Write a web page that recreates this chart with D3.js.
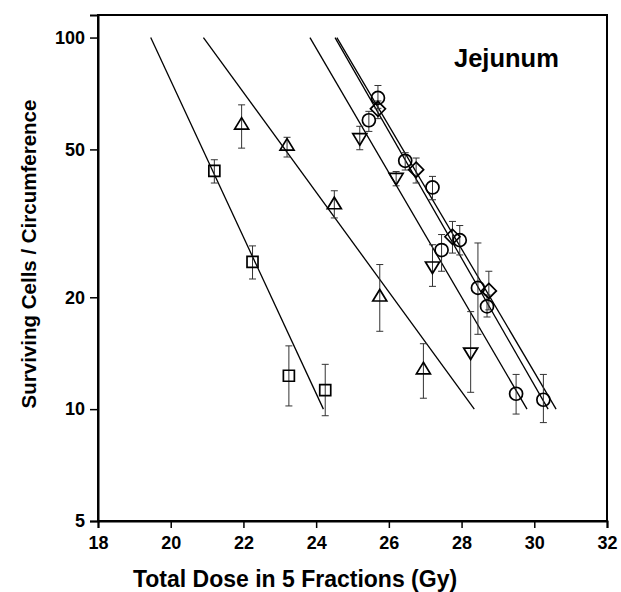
<!DOCTYPE html>
<html>
<head>
<meta charset="utf-8">
<script src="https://cdn.jsdelivr.net/npm/d3@7"></script>
<style>
  body { margin: 0; background: #fff; }
  text { font-family: "Liberation Sans", Arial, sans-serif; font-weight: bold; fill: #000; }
</style>
</head>
<body>
<svg id="chart" width="621" height="592"></svg>
<script>

//// DATA

// Squares
var squareDose = [21.2, 22.25, 23.25, 24.25];
var squareSurv = [43.8, 24.9, 12.3, 11.25];
var squareLo   = [40.6, 22.4, 10.2, 9.6];
var squareHi   = [46.9, 27.5, 14.8, 13.2];

// Up triangles
var upDose = [21.95, 23.2, 24.5, 25.75, 26.95];
var upSurv = [58.3, 51.2, 35.6, 20.1, 12.8];
var upLo   = [50.4, 47.7, 32.7, 16.2, 10.7];
var upHi   = [65.9, 53.9, 38.7, 24.5, 15.0];

// Down triangles
var downDose = [25.2, 26.2, 27.2, 28.25];
var downSurv = [53.6, 41.9, 24.2, 14.2];
var downLo   = [49.9, 39.9, 21.4, 11.1];
var downHi   = [57.7, 43.6, 27.7, 18.3];

// Circles
var circleDose = [25.45, 25.7, 26.45, 27.2, 27.45, 27.95, 28.45, 28.7, 29.5, 30.25];
var circleSurv = [59.9, 68.8, 46.6, 39.5, 26.8, 28.5, 21.2, 18.9, 11.0, 10.6];
var circleLo   = [55.9, 64.5, 44.0, 36.6, 23.5, 26.0, 15.9, 17.7, 9.7, 9.2];
var circleHi   = [63.3, 74.3, 49.0, 42.3, 29.5, 31.2, 28.0, 20.3, 12.4, 12.4];

// Diamonds
var diamondDose = [25.7, 26.75, 27.75, 28.75];
var diamondSurv = [64.3, 44.1, 29.1, 20.8];
var diamondLo   = [60.5, 40.6, 26.3, 18.5];
var diamondHi   = [67.5, 47.4, 32.0, 23.5];

// Fitted lines: dose where each line meets the survival values below
var fitSurv       = [100, 10];
var squareFit     = [19.45, 24.2];
var upFit         = [20.9, 28.35];
var downFit       = [23.83, 29.8];
var circleFit     = [24.52, 30.38];
var diamondFit    = [24.57, 30.6];

// Ticks
var xTicks = [18, 20, 22, 24, 26, 28, 30, 32];
var yTicks = [5, 10, 20, 50, 100];

var panelTitle = "Jejunum";
var xTitle = "Total Dose in 5 Fractions (Gy)";
var yTitle = "Surviving Cells / Circumference";


//// CHART

var svg = d3.select("#chart");

// plot box (don't call it "top", that's window.top)
var plotLeft = 98, plotRight = 607, plotTop = 15, plotBottom = 521;

var x = d3.scaleLinear().domain([18, 32]).range([plotLeft, plotRight]);
var y = d3.scaleLog().domain([5, 115]).range([plotBottom, plotTop]);

// Frame
svg.append("rect")
    .attr("x", plotLeft).attr("y", plotTop)
    .attr("width", plotRight - plotLeft).attr("height", plotBottom - plotTop)
    .attr("fill", "none").attr("stroke", "#000").attr("stroke-width", 2);

// Axes
var xAxis = svg.append("g")
    .attr("transform", "translate(0," + plotBottom + ")")
    .call(d3.axisBottom(x).tickValues(xTicks).tickSize(7).tickPadding(8).tickFormat(d3.format("d")));

var yAxis = svg.append("g")
    .attr("transform", "translate(" + plotLeft + ",0)")
    .call(d3.axisLeft(y).tickValues(yTicks).tickSize(8).tickPadding(5).tickFormat(d3.format("d")));

[xAxis, yAxis].forEach(function(g){
    g.select(".domain").attr("stroke-width", 2);
    g.selectAll(".tick line").attr("stroke-width", 1.5);
    g.selectAll(".tick text").style("font-size", "18px").style("font-family", "Liberation Sans, Arial, sans-serif").style("font-weight", "bold");
});

// Titles
svg.append("text")
    .attr("x", 295).attr("y", 587)
    .attr("text-anchor", "middle")
    .style("font-size", "23px")
    .text(xTitle);

svg.append("text")
    .attr("transform", "translate(36,254) rotate(-90)")
    .attr("text-anchor", "middle")
    .style("font-size", "20.5px")
    .text(yTitle);

svg.append("text")
    .attr("x", 454).attr("y", 67)
    .style("font-size", "25.5px")
    .text(panelTitle);

// Fitted lines
function drawFit(doses){
    svg.append("line")
        .attr("x1", x(doses[0])).attr("y1", y(fitSurv[0]))
        .attr("x2", x(doses[1])).attr("y2", y(fitSurv[1]))
        .attr("stroke", "#000").attr("stroke-width", 1.3);
}
[squareFit, upFit, downFit, circleFit, diamondFit].forEach(drawFit);

// Error bars
function drawErrors(dose, lo, hi){
    var g = svg.append("g").attr("stroke", "#333").attr("stroke-width", 1);
    for (var i = 0; i < dose.length; i++){
        var cx = x(dose[i]);
        g.append("line").attr("x1", cx).attr("x2", cx).attr("y1", y(lo[i])).attr("y2", y(hi[i]));
        g.append("line").attr("x1", cx - 3.5).attr("x2", cx + 3.5).attr("y1", y(lo[i])).attr("y2", y(lo[i]));
        g.append("line").attr("x1", cx - 3.5).attr("x2", cx + 3.5).attr("y1", y(hi[i])).attr("y2", y(hi[i]));
    }
}

// Marker shapes (paths around 0,0)
var shapes = {
    square:  "M-5.5,-5.5H5.5V5.5H-5.5Z",
    up:      "M0,-7L7,4.5H-7Z",
    down:    "M0,7L7,-4.5H-7Z",
    circle:  d3.symbol().type(d3.symbolCircle).size(Math.PI * 6.5 * 6.5)(),
    diamond: "M0,-7.5L7.5,0L0,7.5L-7.5,0Z"
};

function drawMarkers(dose, surv, shape){
    svg.append("g").selectAll("path")
        .data(d3.range(dose.length))
        .enter()
        .append("path")
        .attr("d", shapes[shape])
        .attr("transform", function(i){ return "translate(" + x(dose[i]) + "," + y(surv[i]) + ")"; })
        .attr("fill", "none")
        .attr("stroke", "#000")
        .attr("stroke-width", 1.7);
}

drawErrors(squareDose, squareLo, squareHi);
drawErrors(upDose, upLo, upHi);
drawErrors(downDose, downLo, downHi);
drawErrors(circleDose, circleLo, circleHi);
drawErrors(diamondDose, diamondLo, diamondHi);

drawMarkers(squareDose, squareSurv, "square");
drawMarkers(upDose, upSurv, "up");
drawMarkers(downDose, downSurv, "down");
drawMarkers(circleDose, circleSurv, "circle");
drawMarkers(diamondDose, diamondSurv, "diamond");

</script>
</body>
</html>
